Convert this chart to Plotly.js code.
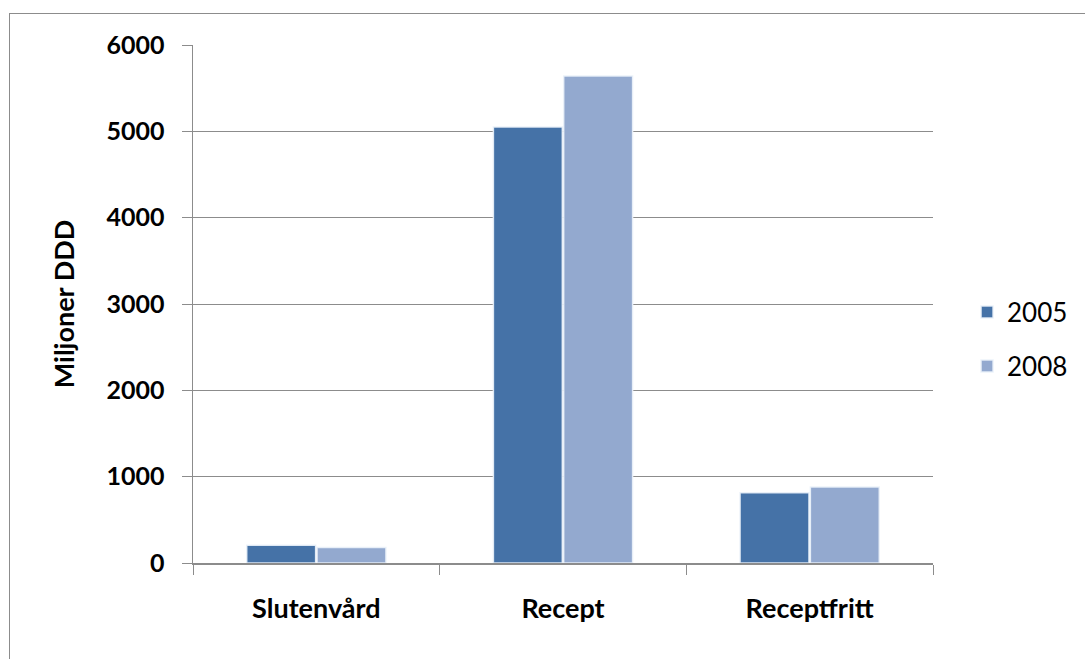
<!DOCTYPE html>
<html>
<head>
<meta charset="utf-8">
<script src="https://cdn.plot.ly/plotly-3.0.1.min.js"></script>
<style>
html,body{margin:0;padding:0;background:#fff;}
#frame{position:absolute;left:9px;top:13px;width:1100px;height:700px;border:1.5px solid #8c8c8c;box-sizing:border-box;pointer-events:none;}
#chart{position:absolute;left:0;top:0;width:1085px;height:659px;}
</style>
</head>
<body>
<div id="chart"></div>
<div id="frame"></div>
<script>
var categories = ["Slutenvård", "Recept", "Receptfritt"];
var values2005 = [205, 5050, 815];
var values2008 = [180, 5640, 880];
var seriesNames = ["2005", "2008"];
var yTicks = [0, 1000, 2000, 3000, 4000, 5000, 6000];

var font = "Lato, 'Open Sans', sans-serif";

var traces = [
  {type: "bar", name: seriesNames[0], x: categories, y: values2005, legendgroup: "a",
   marker: {color: "#4572A7", line: {color: "rgba(235,242,250,0.9)", width: 1.5}}},
  {type: "bar", name: seriesNames[1], x: categories, y: values2008, legendgroup: "b",
   marker: {color: "#93A9CF", line: {color: "rgba(235,242,250,0.9)", width: 1.5}}}
];

var layout = {
  width: 1085, height: 659,
  margin: {l: 193, r: 152, t: 45, b: 96, pad: 0},
  paper_bgcolor: "rgba(0,0,0,0)", plot_bgcolor: "#fff",
  barmode: "group", bargap: 0.43, bargroupgap: 0.02,
  font: {family: font, color: "#000", size: 17},
  showlegend: true,
  legend: {x: 1.046, xanchor: "left", y: 0.432, yanchor: "middle",
    font: {family: font, size: 26, color: "#000"}, traceorder: "grouped", tracegroupgap: 17,
    itemwidth: 30, bgcolor: "rgba(0,0,0,0)"},
  xaxis: {type: "category", tickson: "boundaries", ticks: "outside", ticklen: 10, tickcolor: "#8c8c8c",
    showline: true, linecolor: "#8c8c8c", linewidth: 1.5, showgrid: false, ticklabelstandoff: 21,
    tickfont: {family: font, size: 27, color: "#000", weight: "bold"}},
  yaxis: {range: [0, 6000], tickvals: yTicks, ticks: "outside", ticklen: 10, tickcolor: "#8c8c8c",
    showline: true, linecolor: "#8c8c8c", linewidth: 1.5, showgrid: true, gridcolor: "#8c8c8c", gridwidth: 1,
    zeroline: false, ticklabelstandoff: 12, tickfont: {family: font, size: 25, color: "#000", weight: "bold"},
    title: {text: "Miljoner DDD", standoff: 24, font: {family: font, size: 27, color: "#000", weight: "bold"}}}
};

Plotly.newPlot("chart", traces, layout, {displayModeBar: false, staticPlot: true});
</script>
</body>
</html>
